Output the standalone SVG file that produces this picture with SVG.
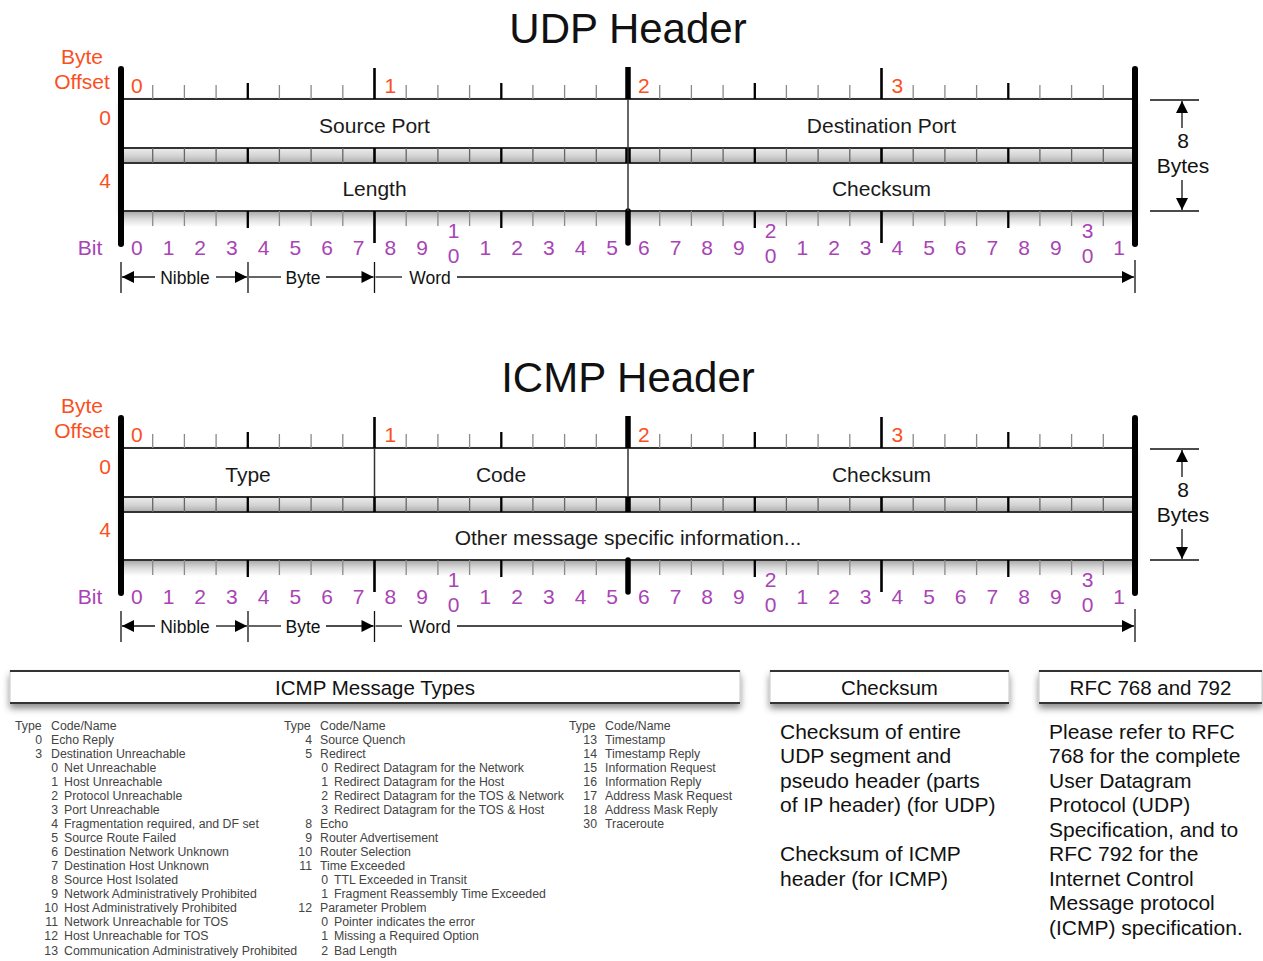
<svg xmlns="http://www.w3.org/2000/svg" xmlns:xlink="http://www.w3.org/1999/xlink" width="1263" height="961" viewBox="0 0 1263 961">
<style>
text{font-family:"Liberation Sans",Arial,sans-serif}
.title{font-size:42px;fill:#111;text-anchor:middle}
.fld{font-size:21px;fill:#1a1a1a;text-anchor:middle}
.off{font-size:21px;fill:#fb4f22;text-anchor:middle}
.bit{font-size:21px;fill:#a844b4;text-anchor:middle}
.lab{font-size:17.5px;fill:#111;text-anchor:middle}
.big{font-size:21px;fill:#111}
.hd{font-size:20.5px;fill:#111;text-anchor:middle}
.t{font-size:12.3px;fill:#444}
.e{text-anchor:end}
.s{stroke:#8a8a8a;stroke-width:1.3;fill:none}
.sb{stroke:#666;stroke-width:1.3;fill:none}
.n{stroke:#000;stroke-width:2.3;fill:none}
.b{stroke:#000;stroke-width:2.6;fill:none}
.w{stroke:#000;stroke-width:5.5;fill:none}
.edge{stroke:#000;stroke-width:6;stroke-linecap:round;fill:none}
.hl{stroke:#333;stroke-width:2;fill:none}
.div{stroke:#333;stroke-width:1.5;fill:none}
.thin{stroke:#111;stroke-width:1.3;fill:none}
.arr{stroke:#111;stroke-width:1.3;fill:none;marker-end:url(#ah)}
</style>
<defs>
<linearGradient id="band" x1="0" y1="0" x2="0" y2="1"><stop offset="0" stop-color="#eeeeee"/><stop offset="0.55" stop-color="#d2d2d2"/><stop offset="1" stop-color="#adadad"/></linearGradient>
<linearGradient id="fade" x1="0" y1="0" x2="0" y2="1"><stop offset="0" stop-color="#a6a6a6"/><stop offset="0.5" stop-color="#dcdcdc"/><stop offset="1" stop-color="#ffffff"/></linearGradient>
<filter id="sh" x="-5%" y="-30%" width="110%" height="170%"><feDropShadow dx="0" dy="3" stdDeviation="3" flood-color="#000" flood-opacity="0.3"/></filter>
<filter id="sh2" x="-5%" y="-50%" width="110%" height="250%"><feDropShadow dx="0" dy="5" stdDeviation="3.5" flood-color="#000" flood-opacity="0.45"/></filter>
<marker id="ah" viewBox="0 0 10 10" refX="10" refY="5" markerUnits="userSpaceOnUse" markerWidth="15" markerHeight="12" orient="auto"><path d="M0,0L10,5L0,10z" fill="#000"/></marker>
<g id="frame">
<rect x="121" y="99" width="1014" height="112" fill="#fff" filter="url(#sh)"/>
<rect x="121" y="148" width="1014" height="15" fill="url(#band)"/>
<rect x="121" y="211" width="1014" height="16" fill="url(#fade)"/>
<path class="hl" d="M121 99H1135M121 148H1135M121 163H1135M121 211H1135"/>
<path class="s" d="M152.7 85V99M184.4 85V99M216.1 85V99M279.4 85V99M311.1 85V99M342.8 85V99M406.2 85V99M437.9 85V99M469.6 85V99M532.9 85V99M564.6 85V99M596.3 85V99M659.7 85V99M691.4 85V99M723.1 85V99M786.4 85V99M818.1 85V99M849.8 85V99M913.2 85V99M944.9 85V99M976.6 85V99M1039.9 85V99M1071.6 85V99M1103.3 85V99"/>
<path class="sb" d="M152.7 148V163M184.4 148V163M216.1 148V163M279.4 148V163M311.1 148V163M342.8 148V163M406.2 148V163M437.9 148V163M469.6 148V163M532.9 148V163M564.6 148V163M596.3 148V163M659.7 148V163M691.4 148V163M723.1 148V163M786.4 148V163M818.1 148V163M849.8 148V163M913.2 148V163M944.9 148V163M976.6 148V163M1039.9 148V163M1071.6 148V163M1103.3 148V163"/>
<path class="s" d="M152.7 211V226M184.4 211V226M216.1 211V226M279.4 211V226M311.1 211V226M342.8 211V226M406.2 211V226M437.9 211V226M469.6 211V226M532.9 211V226M564.6 211V226M596.3 211V226M659.7 211V226M691.4 211V226M723.1 211V226M786.4 211V226M818.1 211V226M849.8 211V226M913.2 211V226M944.9 211V226M976.6 211V226M1039.9 211V226M1071.6 211V226M1103.3 211V226"/>
<path class="n" d="M247.8 83V99M501.3 83V99M754.8 83V99M1008.3 83V99M247.8 148V163M501.3 148V163M754.8 148V163M1008.3 148V163M247.8 211V228M501.3 211V228M754.8 211V228M1008.3 211V228"/>
<path class="b" d="M374.5 68V99M881.5 68V99M374.5 148V163M881.5 148V163M374.5 211V243M881.5 211V243"/>
<path class="w" d="M628 67V99M628 148V163"/>
<path class="w" stroke-linecap="round" d="M628 211V243"/>
<path class="edge" d="M121 69V244M1135 69V244"/>
<text class="off" x="82" y="64">Byte</text>
<text class="off" x="82" y="89">Offset</text>
<text class="off" x="105" y="125">0</text>
<text class="off" x="105" y="188">4</text>
<text class="off" x="136.8" y="93">0</text>
<text class="off" x="390.3" y="93">1</text>
<text class="off" x="643.8" y="93">2</text>
<text class="off" x="897.3" y="93">3</text>
<text class="bit" x="90" y="255">Bit</text>
<text class="bit" x="136.8" y="255">0</text>
<text class="bit" x="168.5" y="255">1</text>
<text class="bit" x="200.2" y="255">2</text>
<text class="bit" x="231.9" y="255">3</text>
<text class="bit" x="263.6" y="255">4</text>
<text class="bit" x="295.3" y="255">5</text>
<text class="bit" x="327" y="255">6</text>
<text class="bit" x="358.7" y="255">7</text>
<text class="bit" x="390.3" y="255">8</text>
<text class="bit" x="422" y="255">9</text>
<text class="bit" x="453.7" y="238">1</text>
<text class="bit" x="453.7" y="263">0</text>
<text class="bit" x="485.4" y="255">1</text>
<text class="bit" x="517.1" y="255">2</text>
<text class="bit" x="548.8" y="255">3</text>
<text class="bit" x="580.5" y="255">4</text>
<text class="bit" x="612.2" y="255">5</text>
<text class="bit" x="643.8" y="255">6</text>
<text class="bit" x="675.5" y="255">7</text>
<text class="bit" x="707.2" y="255">8</text>
<text class="bit" x="738.9" y="255">9</text>
<text class="bit" x="770.6" y="238">2</text>
<text class="bit" x="770.6" y="263">0</text>
<text class="bit" x="802.3" y="255">1</text>
<text class="bit" x="834" y="255">2</text>
<text class="bit" x="865.7" y="255">3</text>
<text class="bit" x="897.3" y="255">4</text>
<text class="bit" x="929" y="255">5</text>
<text class="bit" x="960.7" y="255">6</text>
<text class="bit" x="992.4" y="255">7</text>
<text class="bit" x="1024.1" y="255">8</text>
<text class="bit" x="1055.8" y="255">9</text>
<text class="bit" x="1087.5" y="238">3</text>
<text class="bit" x="1087.5" y="263">0</text>
<text class="bit" x="1119.2" y="255">1</text>
<path class="thin" d="M121 262V293M248 262V293M374.5 262V293M1135 260V293"/>
<path class="arr" d="M155 277H122"/>
<path class="arr" d="M216 277H247"/>
<path class="thin" d="M249 277H281"/>
<path class="arr" d="M326 277H373.5"/>
<path class="thin" d="M375.5 277H402"/>
<path class="arr" d="M457 277H1134"/>
<text class="lab" x="185" y="284">Nibble</text>
<text class="lab" x="303" y="284">Byte</text>
<text class="lab" x="430" y="284">Word</text>
<path class="thin" d="M1150 100H1199M1150 211H1199"/>
<path class="arr" d="M1182 128V101"/>
<path class="arr" d="M1182 180V210"/>
<text class="big" x="1183" y="148" text-anchor="middle">8</text>
<text class="big" x="1183" y="173" text-anchor="middle">Bytes</text>
</g>
</defs>

<g id="udp-header">
<text class="title" x="628" y="43">UDP Header</text>
<use xlink:href="#frame" href="#frame"/>
<path class="div" d="M628 99V211"/>
<g id="udp-source-port"><text class="fld" x="374.5" y="132.5">Source Port</text></g>
<g id="udp-destination-port"><text class="fld" x="881.5" y="132.5">Destination Port</text></g>
<g id="udp-length"><text class="fld" x="374.5" y="196">Length</text></g>
<g id="udp-checksum"><text class="fld" x="881.5" y="196">Checksum</text></g>
</g>

<g id="icmp-header">
<text class="title" x="628" y="392">ICMP Header</text>
<use xlink:href="#frame" href="#frame" transform="translate(0,349)"/>
<path class="div" d="M374.5 448V497M628 448V497"/>
<g id="icmp-type"><text class="fld" x="248" y="481.5">Type</text></g>
<g id="icmp-code"><text class="fld" x="501" y="481.5">Code</text></g>
<g id="icmp-checksum"><text class="fld" x="881.5" y="481.5">Checksum</text></g>
<g id="icmp-other"><text class="fld" x="628" y="545">Other message specific information...</text></g>
</g>

<g id="icmp-types-table">
<rect x="10" y="671" width="730" height="32" fill="#fff" stroke="#c8c8c8" stroke-width="1" filter="url(#sh2)"/>
<path class="hl" stroke="#555" d="M10 671H740M10 703H740"/>
<text class="hd" x="375" y="695">ICMP Message Types</text>
<g class="t">
<text x="15" y="729.5">Type</text><text x="51" y="729.5">Code/Name</text>
<text class="e" x="42" y="743.6">0</text><text x="51" y="743.6">Echo Reply</text>
<text class="e" x="42" y="757.6">3</text><text x="51" y="757.6">Destination Unreachable</text>
<text class="e" x="58" y="771.7">0</text><text x="64" y="771.7">Net Unreachable</text>
<text class="e" x="58" y="785.7">1</text><text x="64" y="785.7">Host Unreachable</text>
<text class="e" x="58" y="799.8">2</text><text x="64" y="799.8">Protocol Unreachable</text>
<text class="e" x="58" y="813.9">3</text><text x="64" y="813.9">Port Unreachable</text>
<text class="e" x="58" y="827.9">4</text><text x="64" y="827.9">Fragmentation required, and DF set</text>
<text class="e" x="58" y="842">5</text><text x="64" y="842">Source Route Failed</text>
<text class="e" x="58" y="856">6</text><text x="64" y="856">Destination Network Unknown</text>
<text class="e" x="58" y="870.1">7</text><text x="64" y="870.1">Destination Host Unknown</text>
<text class="e" x="58" y="884.2">8</text><text x="64" y="884.2">Source Host Isolated</text>
<text class="e" x="58" y="898.2">9</text><text x="64" y="898.2">Network Administratively Prohibited</text>
<text class="e" x="58" y="912.3">10</text><text x="64" y="912.3">Host Administratively Prohibited</text>
<text class="e" x="58" y="926.3">11</text><text x="64" y="926.3">Network Unreachable for TOS</text>
<text class="e" x="58" y="940.4">12</text><text x="64" y="940.4">Host Unreachable for TOS</text>
<text class="e" x="58" y="954.5">13</text><text x="64" y="954.5">Communication Administratively Prohibited</text>

<text x="284" y="729.5">Type</text><text x="320" y="729.5">Code/Name</text>
<text class="e" x="312" y="743.6">4</text><text x="320" y="743.6">Source Quench</text>
<text class="e" x="312" y="757.6">5</text><text x="320" y="757.6">Redirect</text>
<text class="e" x="328" y="771.7">0</text><text x="334" y="771.7">Redirect Datagram for the Network</text>
<text class="e" x="328" y="785.7">1</text><text x="334" y="785.7">Redirect Datagram for the Host</text>
<text class="e" x="328" y="799.8">2</text><text x="334" y="799.8">Redirect Datagram for the TOS &amp; Network</text>
<text class="e" x="328" y="813.9">3</text><text x="334" y="813.9">Redirect Datagram for the TOS &amp; Host</text>
<text class="e" x="312" y="827.9">8</text><text x="320" y="827.9">Echo</text>
<text class="e" x="312" y="842">9</text><text x="320" y="842">Router Advertisement</text>
<text class="e" x="312" y="856">10</text><text x="320" y="856">Router Selection</text>
<text class="e" x="312" y="870.1">11</text><text x="320" y="870.1">Time Exceeded</text>
<text class="e" x="328" y="884.2">0</text><text x="334" y="884.2">TTL Exceeded in Transit</text>
<text class="e" x="328" y="898.2">1</text><text x="334" y="898.2">Fragment Reassembly Time Exceeded</text>
<text class="e" x="312" y="912.3">12</text><text x="320" y="912.3">Parameter Problem</text>
<text class="e" x="328" y="926.3">0</text><text x="334" y="926.3">Pointer indicates the error</text>
<text class="e" x="328" y="940.4">1</text><text x="334" y="940.4">Missing a Required Option</text>
<text class="e" x="328" y="954.5">2</text><text x="334" y="954.5">Bad Length</text>

<text x="569" y="729.5">Type</text><text x="605" y="729.5">Code/Name</text>
<text class="e" x="597" y="743.6">13</text><text x="605" y="743.6">Timestamp</text>
<text class="e" x="597" y="757.6">14</text><text x="605" y="757.6">Timestamp Reply</text>
<text class="e" x="597" y="771.7">15</text><text x="605" y="771.7">Information Request</text>
<text class="e" x="597" y="785.7">16</text><text x="605" y="785.7">Information Reply</text>
<text class="e" x="597" y="799.8">17</text><text x="605" y="799.8">Address Mask Request</text>
<text class="e" x="597" y="813.9">18</text><text x="605" y="813.9">Address Mask Reply</text>
<text class="e" x="597" y="827.9">30</text><text x="605" y="827.9">Traceroute</text>
</g>
</g>

<g id="checksum-note">
<rect x="770" y="671" width="239" height="32" fill="#fff" stroke="#c8c8c8" stroke-width="1" filter="url(#sh2)"/>
<path class="hl" stroke="#555" d="M770 671H1009M770 703H1009"/>
<text class="hd" x="889.5" y="695">Checksum</text>
<text class="big" x="780" y="738.5">Checksum of entire</text>
<text class="big" x="780" y="763">UDP segment and</text>
<text class="big" x="780" y="787.5">pseudo header (parts</text>
<text class="big" x="780" y="812">of IP header) (for UDP)</text>
<text class="big" x="780" y="861">Checksum of ICMP</text>
<text class="big" x="780" y="885.5">header (for ICMP)</text>
</g>

<g id="rfc-note">
<rect x="1039" y="671" width="223" height="32" fill="#fff" stroke="#c8c8c8" stroke-width="1" filter="url(#sh2)"/>
<path class="hl" stroke="#555" d="M1039 671H1262M1039 703H1262"/>
<text class="hd" x="1150.5" y="695">RFC 768 and 792</text>
<text class="big" x="1049" y="738.5">Please refer to RFC</text>
<text class="big" x="1049" y="763">768 for the complete</text>
<text class="big" x="1049" y="787.5">User Datagram</text>
<text class="big" x="1049" y="812">Protocol (UDP)</text>
<text class="big" x="1049" y="836.5">Specification, and to</text>
<text class="big" x="1049" y="861">RFC 792 for the</text>
<text class="big" x="1049" y="885.5">Internet Control</text>
<text class="big" x="1049" y="910">Message protocol</text>
<text class="big" x="1049" y="934.5">(ICMP) specification.</text>
</g>
</svg>
